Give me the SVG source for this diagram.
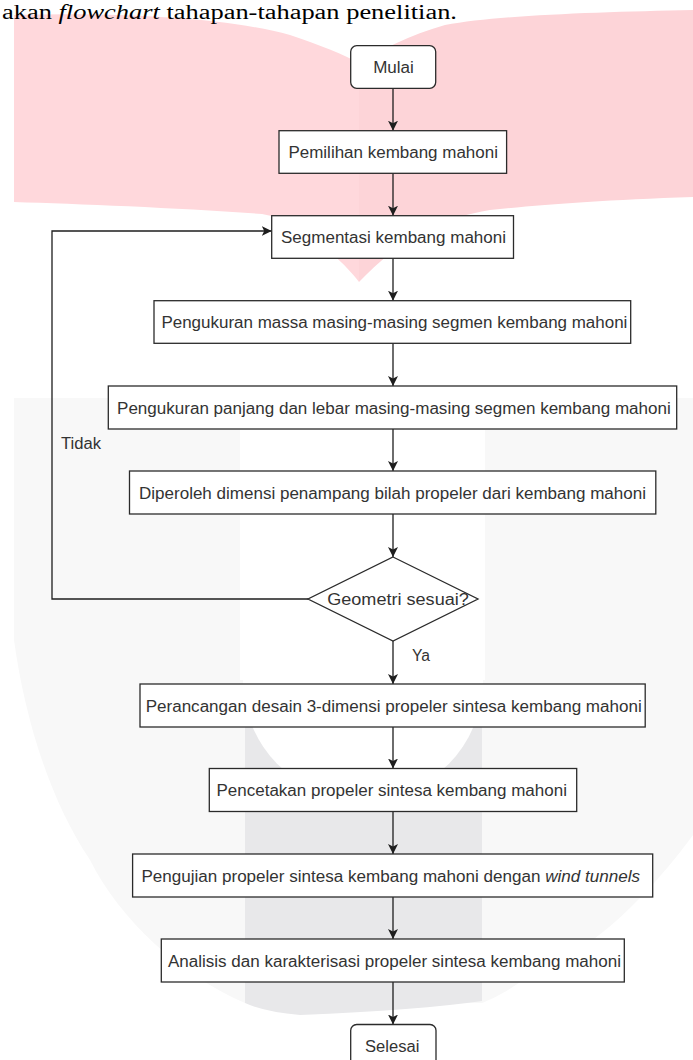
<svg xmlns="http://www.w3.org/2000/svg" width="693" height="1060" viewBox="0 0 693 1060">
<style>
.box{fill:#ffffff;stroke:#2b2b2b;stroke-width:1.3}
.lbl{font-family:"Liberation Sans",Arial,sans-serif;font-size:16px;fill:#333333;text-anchor:middle}
.free{font-family:"Liberation Sans",Arial,sans-serif;font-size:16px;fill:#333333}
.edge{fill:none;stroke:#1e1e1e;stroke-width:1.3}
.cap{font-family:"Liberation Serif","Times New Roman",serif;font-size:20px;fill:#000}
</style>
<defs>
<marker id="arr" viewBox="0 0 10 10" refX="10" refY="5" markerWidth="10" markerHeight="10" markerUnits="userSpaceOnUse" orient="auto">
<path d="M0,0 L10,5 L0,10 L2.5,5 Z" fill="#1e1e1e"/>
</marker>
</defs>
<rect width="693" height="1060" fill="#ffffff"/>
<g id="watermark">
<path d="M14,15 C120,12 230,18 290,35 C320,45 345,55 359,63 L359,282 C350,270 335,255 315,240 C300,228 285,218 262,214 C180,208 80,204 14,202 Z" fill="#ffd8dc"/>
<path d="M359,63 C380,50 410,35 445,25 C500,15 600,12 693,10 L693,197 C600,200 540,205 490,210 C430,220 395,245 359,282 Z" fill="#fdd4d8"/>
<path d="M14,398 L693,398 L693,835 C660,880 600,950 530,975 C510,990 495,998 482,1003 L245,1003 C180,975 120,920 90,860 C50,800 25,720 14,640 Z" fill="#f8f8f8"/>
<path d="M245,680 L482,680 L482,1001 Q420,1010 300,1015 Q265,1012 245,1003 Z" fill="#e8e8ea"/>
<rect x="240" y="430" width="245" height="250" fill="#ffffff"/>
<circle cx="363" cy="680" r="120" fill="#ffffff"/>
</g>
<text class="cap" x="2" y="19" textLength="455" lengthAdjust="spacingAndGlyphs">akan <tspan font-style="italic">flowchart</tspan> tahapan-tahapan penelitian.</text>
<g id="connectors">
<line class="edge" x1="393" y1="88.3" x2="393" y2="130.7" marker-end="url(#arr)"/>
<line class="edge" x1="393" y1="173.3" x2="393" y2="215.7" marker-end="url(#arr)"/>
<line class="edge" x1="393" y1="258.3" x2="393" y2="300.7" marker-end="url(#arr)"/>
<line class="edge" x1="393" y1="343.3" x2="393" y2="386" marker-end="url(#arr)"/>
<line class="edge" x1="393" y1="429" x2="393" y2="471" marker-end="url(#arr)"/>
<line class="edge" x1="393" y1="514" x2="393" y2="557" marker-end="url(#arr)"/>
<line class="edge" x1="393" y1="641" x2="393" y2="684" marker-end="url(#arr)"/>
<line class="edge" x1="393" y1="727" x2="393" y2="768.5" marker-end="url(#arr)"/>
<line class="edge" x1="393" y1="811.5" x2="393" y2="854" marker-end="url(#arr)"/>
<line class="edge" x1="393" y1="897" x2="393" y2="939" marker-end="url(#arr)"/>
<line class="edge" x1="393" y1="982" x2="393" y2="1024.5" marker-end="url(#arr)"/>
<polyline class="edge" points="308,599 52,599 52,231 271.7,231" marker-end="url(#arr)"/>
<text class="free" x="61" y="449" textLength="40" lengthAdjust="spacingAndGlyphs">Tidak</text>
<text class="free" x="412" y="661" textLength="18" lengthAdjust="spacingAndGlyphs">Ya</text>
</g>
<g id="mulai">
<rect class="box" x="350.7" y="45.7" width="85" height="42.6" rx="6" ry="6"/>
<text class="lbl" x="393.5" y="73" textLength="40.7" lengthAdjust="spacingAndGlyphs">Mulai</text>
</g>
<g id="pemilihan">
<rect class="box" x="279" y="130.7" width="227.6" height="42.6"/>
<text class="lbl" x="393.2" y="158" textLength="209.5" lengthAdjust="spacingAndGlyphs">Pemilihan kembang mahoni</text>
</g>
<g id="segmentasi">
<rect class="box" x="271.7" y="215.7" width="241.8" height="42.6"/>
<text class="lbl" x="393.5" y="243" textLength="225" lengthAdjust="spacingAndGlyphs">Segmentasi kembang mahoni</text>
</g>
<g id="massa">
<rect class="box" x="154" y="300.7" width="476.7" height="42.6"/>
<text class="lbl" x="394.4" y="328" textLength="466" lengthAdjust="spacingAndGlyphs">Pengukuran massa masing-masing segmen kembang mahoni</text>
</g>
<g id="panjang">
<rect class="box" x="108.3" y="386" width="568.4" height="43"/>
<text class="lbl" x="393.9" y="413.5" textLength="553.7" lengthAdjust="spacingAndGlyphs">Pengukuran panjang dan lebar masing-masing segmen kembang mahoni</text>
</g>
<g id="diperoleh">
<rect class="box" x="129.5" y="471" width="526.3" height="43"/>
<text class="lbl" x="392.5" y="498.5" textLength="507" lengthAdjust="spacingAndGlyphs">Diperoleh dimensi penampang bilah propeler dari kembang mahoni</text>
</g>
<g id="geometri">
<polygon class="box" points="393,557 478,599 393,641 308,599"/>
<text class="lbl" x="398" y="605" textLength="141.7" lengthAdjust="spacingAndGlyphs">Geometri sesuai?</text>
</g>
<g id="perancangan">
<rect class="box" x="140" y="684" width="505.2" height="43"/>
<text class="lbl" x="393.7" y="711.5" textLength="496" lengthAdjust="spacingAndGlyphs">Perancangan desain 3-dimensi propeler sintesa kembang mahoni</text>
</g>
<g id="pencetakan">
<rect class="box" x="209.3" y="768.5" width="367.4" height="43"/>
<text class="lbl" x="391.7" y="796" textLength="350.4" lengthAdjust="spacingAndGlyphs">Pencetakan propeler sintesa kembang mahoni</text>
</g>
<g id="pengujian">
<rect class="box" x="132.6" y="854" width="520.1" height="43"/>
<text class="lbl" x="390.7" y="881.5" textLength="498.6" lengthAdjust="spacingAndGlyphs">Pengujian propeler sintesa kembang mahoni dengan <tspan font-style="italic">wind tunnels</tspan></text>
</g>
<g id="analisis">
<rect class="box" x="161.3" y="939" width="463" height="43"/>
<text class="lbl" x="394.5" y="966.5" textLength="453" lengthAdjust="spacingAndGlyphs">Analisis dan karakterisasi propeler sintesa kembang mahoni</text>
</g>
<g id="selesai">
<rect class="box" x="350.7" y="1024.5" width="85.3" height="43" rx="6" ry="6"/>
<text class="lbl" x="392.2" y="1052" textLength="54.3" lengthAdjust="spacingAndGlyphs">Selesai</text>
</g>
</svg>
